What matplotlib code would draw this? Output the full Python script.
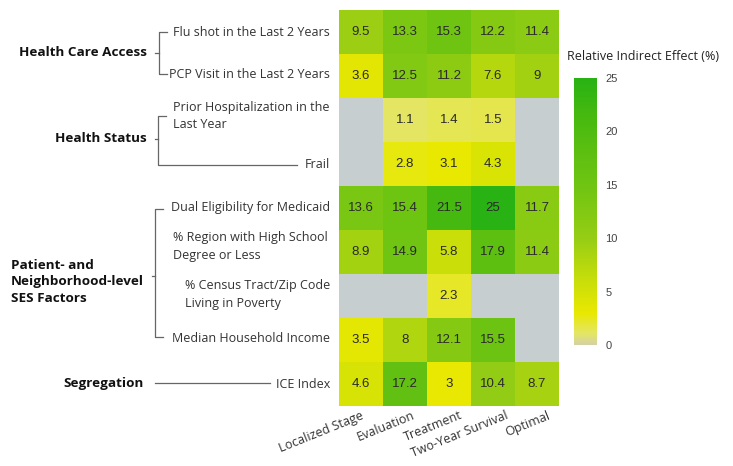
import numpy as np
import matplotlib
matplotlib.use("Agg")
import matplotlib.pyplot as plt
from matplotlib.colors import LinearSegmentedColormap

# ---- data ----
outcomes = ["Localized Stage", "Evaluation", "Treatment", "Two-Year Survival", "Optimal"]
mediators = [
    "Flu shot in the Last 2 Years",
    "PCP Visit in the Last 2 Years",
    "Prior Hospitalization in the\nLast Year",
    "Frail",
    "Dual Eligibility for Medicaid",
    "% Region with High School\nDegree or Less",
    "% Census Tract/Zip Code\nLiving in Poverty",
    "Median Household Income",
    "ICE Index",
]
nan = np.nan
effects = [
    [9.5, 13.3, 15.3, 12.2, 11.4],
    [3.6, 12.5, 11.2, 7.6, 9],
    [nan, 1.1, 1.4, 1.5, nan],
    [nan, 2.8, 3.1, 4.3, nan],
    [13.6, 15.4, 21.5, 25, 11.7],
    [8.9, 14.9, 5.8, 17.9, 11.4],
    [nan, nan, 2.3, nan, nan],
    [3.5, 8, 12.1, 15.5, nan],
    [4.6, 17.2, 3, 10.4, 8.7],
]
cbar_ticks = [0, 5, 10, 15, 20, 25]
vmin, vmax = 0, 25

W, H = 733, 466
fig = plt.figure(figsize=(W / 100, H / 100), dpi=100)


def fx(x):
    return x / W


def fy(y):
    return 1 - y / H


cmap = LinearSegmentedColormap.from_list(
    "rie",
    [
        (0.00, "#d4d2a5"),
        (0.045, "#e4e660"),
        (0.12, "#e8e800"),
        (0.24, "#c8de0a"),
        (0.40, "#96cd14"),
        (0.56, "#76c612"),
        (0.86, "#46b90f"),
        (1.00, "#28b214"),
    ],
)
cmap.set_bad("#c6ced0")

# ---- heatmap ----
L, R, T, B = 339, 559, 10, 406
ax = fig.add_axes([fx(L), fy(B), fx(R) - fx(L), fy(T) - fy(B)])
data = np.ma.masked_invalid(np.array(effects, dtype=float))
mesh = ax.pcolormesh(data, cmap=cmap, vmin=vmin, vmax=vmax, linewidth=0)
ax.set_xlim(0, len(outcomes))
ax.set_ylim(len(mediators), 0)
for i, row in enumerate(effects):
    for j, v in enumerate(row):
        if not np.isnan(v):
            ax.text(j + 0.5, i + 0.5, f"{v:g}", ha="center", va="center",
                    fontsize=9.5, color="#2a2a2a", family="Liberation Sans")
ax.set_xticks([])
ax.set_yticks([])
for s in ax.spines.values():
    s.set_visible(False)

# column labels
col_dx = [0, 7, 10, 12, 10]
for j, name in enumerate(outcomes):
    xc = L + (j + 0.5) * 44 + col_dx[j]
    fig.text(fx(xc), fy(B + 3), name, rotation=22, rotation_mode="anchor",
             ha="right", va="top", fontsize=9, color="#333333",
             family="Open Sans")

# row labels
lab_kw = dict(fontsize=9, color="#333333", family="Open Sans")
row_layout = [
    (330, 32, "right"),
    (330, 74, "right"),
    (173, 116, "left"),
    (330, 165, "right"),
    (330, 208, "right"),
    (173, 246, "left"),
    (185, 295, "left"),
    (330, 338, "right"),
    (330, 384, "right"),
]
for name, (x, y, ha) in zip(mediators, row_layout):
    fig.text(fx(x), fy(y), name, ha=ha, va="center", linespacing=1.5, **lab_kw)

# group labels
grp_kw = dict(fontsize=9.7, color="#111111", family="Open Sans", weight="bold")
fig.text(fx(147), fy(53), "Health Care Access", ha="right", va="center", **grp_kw)
fig.text(fx(147), fy(139), "Health Status", ha="right", va="center", **grp_kw)
fig.text(fx(11), fy(282), "Patient- and\nNeighborhood-level\nSES Factors",
         ha="left", va="center", linespacing=1.35, **grp_kw)
fig.text(fx(144), fy(383), "Segregation", ha="right", va="center", **grp_kw)

# brackets
lc = "#666666"


def line(xs, ys):
    fig.add_artist(plt.Line2D([fx(x) for x in xs], [fy(y) for y in ys],
                              color=lc, lw=0.9, transform=fig.transFigure))


line([167, 159, 159, 167], [32, 32, 74, 74])
line([155, 159], [53, 53])
line([166, 158, 158, 297], [116, 116, 165, 165])
line([155, 158], [139, 139])
line([163, 155, 155, 163], [209, 209, 337, 337])
line([152, 155], [276, 276])
line([155, 270], [383, 383])

# colorbar
cax = fig.add_axes([fx(574), fy(345), fx(597) - fx(574), fy(78) - fy(345)])
cb = fig.colorbar(mesh, cax=cax, ticks=cbar_ticks)
cb.outline.set_visible(False)
cax.tick_params(length=0, labelsize=8, colors="#444444", pad=6)
for t in cax.get_yticklabels():
    t.set_family("Liberation Sans")
fig.text(fx(567), fy(57), "Relative Indirect Effect (%)", ha="left",
         va="center", fontsize=9, color="#222222", family="Open Sans")

fig.savefig("out.png", dpi=100, facecolor="white")
